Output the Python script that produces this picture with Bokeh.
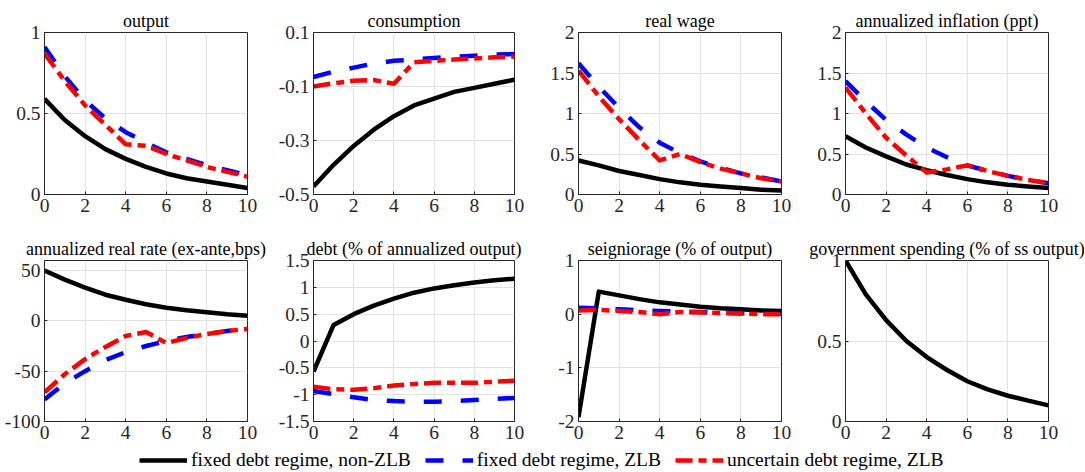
from bokeh.plotting import figure
from bokeh.layouts import column, row
from bokeh.models import Range1d, FixedTicker, Legend, LegendItem, CustomJSTickFormatter
from bokeh.embed import file_html
from bokeh.resources import INLINE

horizon = [0, 1, 2, 3, 4, 5, 6, 7, 8, 9, 10]
x_ticks = [0, 2, 4, 6, 8, 10]

series_names = ["fixed debt regime, non-ZLB", "fixed debt regime, ZLB", "uncertain debt regime, ZLB"]

titles = [
    "output", "consumption", "real wage", "annualized inflation (ppt)",
    "annualized real rate (ex-ante,bps)", "debt (% of annualized output)",
    "seigniorage (% of output)", "government spending (% of ss output)",
]
y_limits = [(0, 1), (-0.5, 0.1), (0, 2), (0, 2), (-100, 60), (-1.5, 1.5), (-2, 1), (0, 1)]
y_ticks = [
    [0, 0.5, 1], [-0.5, -0.3, -0.1, 0.1], [0, 0.5, 1, 1.5, 2], [0, 0.5, 1, 1.5, 2],
    [-100, -50, 0, 50], [-1.5, -1, -0.5, 0, 0.5, 1, 1.5], [-2, -1, 0, 1], [0, 0.5, 1],
]

output_fixed_nonzlb = [0.59, 0.46, 0.36, 0.28, 0.22, 0.17, 0.13, 0.10, 0.08, 0.06, 0.04]
output_fixed_zlb = [0.91, 0.73, 0.58, 0.47, 0.385, 0.32, 0.26, 0.22, 0.18, 0.15, 0.12]
output_uncertain_zlb = [0.87, 0.70, 0.55, 0.43, 0.31, 0.30, 0.25, 0.21, 0.17, 0.14, 0.11]

cons_fixed_nonzlb = [-0.47, -0.39, -0.32, -0.26, -0.21, -0.17, -0.145, -0.12, -0.105, -0.09, -0.075]
cons_fixed_zlb = [-0.065, -0.045, -0.03, -0.015, -0.005, 0.0, 0.006, 0.01, 0.014, 0.018, 0.02]
cons_uncertain_zlb = [-0.10, -0.088, -0.079, -0.076, -0.09, -0.01, -0.005, 0.0, 0.004, 0.008, 0.011]

wage_fixed_nonzlb = [0.42, 0.36, 0.29, 0.24, 0.19, 0.15, 0.12, 0.10, 0.08, 0.06, 0.05]
wage_fixed_zlb = [1.62, 1.33, 1.07, 0.83, 0.64, 0.51, 0.41, 0.33, 0.26, 0.21, 0.16]
wage_uncertain_zlb = [1.53, 1.21, 0.93, 0.67, 0.42, 0.50, 0.40, 0.32, 0.26, 0.20, 0.16]

infl_fixed_nonzlb = [0.72, 0.58, 0.47, 0.37, 0.30, 0.24, 0.19, 0.15, 0.12, 0.10, 0.08]
infl_fixed_zlb = [1.40, 1.15, 0.92, 0.74, 0.58, 0.46, 0.36, 0.29, 0.23, 0.18, 0.14]
infl_uncertain_zlb = [1.32, 1.00, 0.70, 0.48, 0.27, 0.31, 0.36, 0.29, 0.23, 0.18, 0.14]

rate_fixed_nonzlb = [50, 41, 33, 26, 21, 16.5, 13, 10.5, 8.5, 6.5, 5]
rate_fixed_zlb = [-78, -62, -50, -39, -31, -25, -20, -16, -13, -10, -8]
rate_uncertain_zlb = [-71, -53, -38, -26, -15, -11, -22, -17, -13, -10, -8]

debt_fixed_nonzlb = [-0.57, 0.30, 0.50, 0.66, 0.79, 0.90, 0.98, 1.04, 1.09, 1.13, 1.16]
debt_fixed_zlb = [-0.93, -0.99, -1.05, -1.10, -1.12, -1.13, -1.13, -1.12, -1.10, -1.08, -1.06]
debt_uncertain_zlb = [-0.85, -0.90, -0.91, -0.88, -0.83, -0.80, -0.78, -0.78, -0.78, -0.76, -0.74]

seign_fixed_nonzlb = [-1.92, 0.42, 0.35, 0.28, 0.22, 0.18, 0.14, 0.11, 0.09, 0.07, 0.06]
seign_fixed_zlb = [0.12, 0.11, 0.09, 0.07, 0.06, 0.05, 0.04, 0.03, 0.02, 0.02, 0.01]
seign_uncertain_zlb = [0.07, 0.08, 0.06, 0.04, 0.0, 0.04, 0.03, 0.02, 0.01, 0.0, 0.0]

gov_fixed_nonzlb = [1.0, 0.79, 0.63, 0.50, 0.40, 0.32, 0.25, 0.20, 0.16, 0.13, 0.10]

panel_series = [
    [output_fixed_nonzlb, output_fixed_zlb, output_uncertain_zlb],
    [cons_fixed_nonzlb, cons_fixed_zlb, cons_uncertain_zlb],
    [wage_fixed_nonzlb, wage_fixed_zlb, wage_uncertain_zlb],
    [infl_fixed_nonzlb, infl_fixed_zlb, infl_uncertain_zlb],
    [rate_fixed_nonzlb, rate_fixed_zlb, rate_uncertain_zlb],
    [debt_fixed_nonzlb, debt_fixed_zlb, debt_uncertain_zlb],
    [seign_fixed_nonzlb, seign_fixed_zlb, seign_uncertain_zlb],
    [gov_fixed_nonzlb],
]

FONT = "Liberation Serif"
AXC = "#262626"
styles = [
    dict(line_color="#000000", line_width=4.5, line_dash="solid"),
    dict(line_color="#0000ff", line_width=4.5, line_dash="18 19"),
    dict(line_color="#ff0000", line_width=4.5, line_dash="17 6 8 6"),
]


def fmt(tick_list):
    labels = [f"{t:g}" for t in tick_list]
    return CustomJSTickFormatter(
        args=dict(tvals=tick_list, tlabels=labels),
        code="const i = tvals.findIndex(t => Math.abs(t - tick) < 1e-9); return i >= 0 ? tlabels[i] : String(tick);",
    )


def make_panel(i):
    top_row = i < 4
    col = i % 4
    left = 44 if col == 0 else 36
    right = 36 if col == 3 else 28
    top = 32 if top_row else 24
    bottom = 41 if top_row else 23
    p = figure(
        width=left + 203 + right, height=top + 162 + bottom,
        toolbar_location=None, output_backend="svg",
        x_range=Range1d(0, 10), y_range=Range1d(*y_limits[i]),
        min_border_left=left, min_border_right=right, min_border_top=top,
        min_border_bottom=bottom,
        title=titles[i],
    )
    p.title.text_font = FONT
    p.title.text_font_size = "18px"
    p.title.text_font_style = "normal"
    p.title.align = "center"
    p.title.text_color = "#000000"
    p.title.standoff = 3
    p.outline_line_color = AXC
    p.outline_line_width = 1
    p.outline_line_alpha = 1
    p.xaxis.ticker = FixedTicker(ticks=x_ticks)
    p.xaxis.formatter = fmt(x_ticks)
    p.yaxis.ticker = FixedTicker(ticks=y_ticks[i])
    p.yaxis.formatter = fmt(y_ticks[i])
    for ax in (p.xaxis, p.yaxis):
        ax.axis_line_color = AXC
        ax.major_tick_line_color = AXC
        ax.major_tick_in = 3
        ax.major_tick_out = 0
        ax.minor_tick_line_color = None
        ax.major_label_text_font = FONT
        ax.major_label_text_font_size = "19.5px"
        ax.major_label_text_color = AXC
        ax.major_label_standoff = 4
    p.grid.grid_line_color = "#e2e2e2"
    p.grid.grid_line_width = 1
    for k, ys in enumerate(panel_series[i]):
        p.line(horizon, ys, line_join="round", **styles[k])
    return p


panels = [make_panel(i) for i in range(8)]

nan = float("nan")
lf = figure(width=1085, height=28, toolbar_location=None, output_backend="svg",
            x_range=Range1d(0, 1), y_range=Range1d(0, 1),
            x_axis_location=None, y_axis_location=None, min_border=0)
lf.grid.visible = False
lf.outline_line_color = None
items = []
for k, name in enumerate(series_names):
    r = lf.line(x=[nan], y=[nan], **styles[k])
    items.append(LegendItem(label=name, renderers=[r]))
legend = Legend(items=items, orientation="horizontal", location=(139, 1),
                glyph_width=48, glyph_height=20, label_height=20, label_standoff=4, spacing=14,
                padding=0, margin=0, border_line_color=None, background_fill_alpha=0,
                label_text_font=FONT, label_text_font_size="19.5px", label_text_color="#000000")
lf.add_layout(legend)

layout = column(row(*panels[:4]), row(*panels[4:]), lf)

open("out.html", "w").write(file_html(layout, INLINE))
